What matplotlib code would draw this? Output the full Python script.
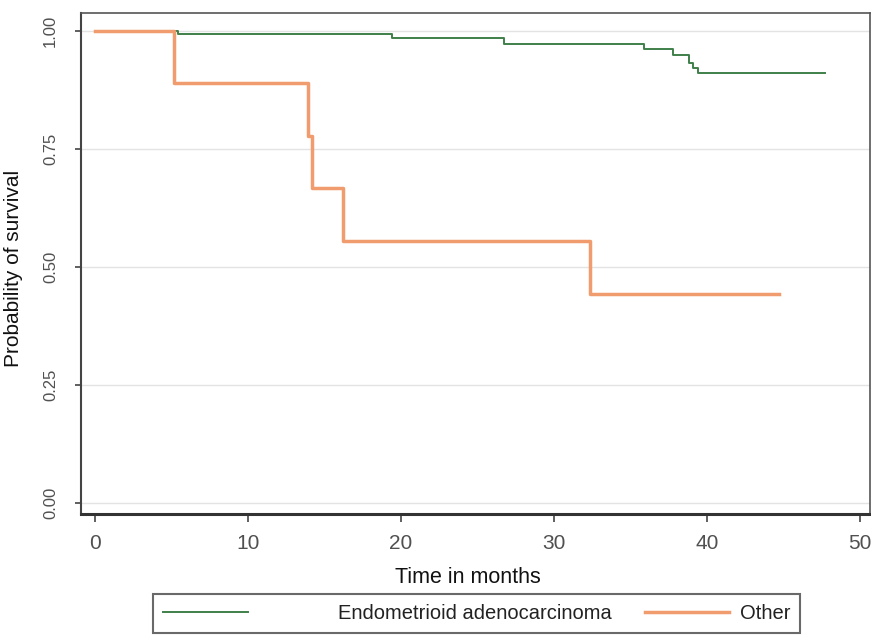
import matplotlib
matplotlib.use("Agg")
import matplotlib.pyplot as plt

# ---- data ----
endo_time = [0, 5.4, 19.4, 26.7, 35.9, 37.75, 38.8, 39.1, 39.4, 47.7]
endo_surv = [1.0, 0.994, 0.984, 0.972, 0.961, 0.950, 0.932, 0.921, 0.910, 0.910]
other_time = [0, 5.16, 13.9, 14.2, 16.2, 32.35, 44.7]
other_surv = [1.0, 0.889, 0.778, 0.667, 0.556, 0.444, 0.444]
series_labels = ["Endometrioid adenocarcinoma", "Other"]
x_ticks = [0, 10, 20, 30, 40, 50]
y_ticks = [0.00, 0.25, 0.50, 0.75, 1.00]
y_ticklabels = ["0.00", "0.25", "0.50", "0.75", "1.00"]

font = "Liberation Sans"

fig = plt.figure(figsize=(8.71, 6.37), dpi=100)
ax = fig.add_axes([0.093, 0.193, 0.9059, 0.7866])

green = "#3f7f4a"
orange = "#f09c6e"
ax.step(endo_time, endo_surv, where="post", color=green, lw=1.4, zorder=3)
ax.step(other_time, other_surv, where="post", color=orange, lw=2.5, zorder=4)

ax.set_xlim(-0.92, 50.65)
ax.set_ylim(-0.023, 1.038)
ax.set_xticks(x_ticks)
ax.set_yticks(y_ticks)
ax.set_yticklabels(y_ticklabels, rotation=90, va="center")
ax.yaxis.grid(True, color="#e3e3e3", lw=1.0)
ax.set_axisbelow(True)

for lab in ax.get_xticklabels():
    lab.set_fontfamily(font)
    lab.set_fontsize(15)
    lab.set_color("#505050")
for lab in ax.get_yticklabels():
    lab.set_fontfamily(font)
    lab.set_fontsize(12)
    lab.set_color("#505050")
ax.tick_params(axis="x", direction="out", length=6, width=1.2, color="#444444", pad=8)
ax.tick_params(axis="y", direction="out", length=4.5, width=1.2, color="#444444", pad=12)

for side in ["top", "right"]:
    ax.spines[side].set_color("#555555")
    ax.spines[side].set_linewidth(1.2)
ax.spines["left"].set_color("#444444")
ax.spines["left"].set_linewidth(1.5)
ax.spines["bottom"].set_color("#333333")
ax.spines["bottom"].set_linewidth(2.2)

ax.set_xlabel("Time in months", fontfamily=font, fontsize=15.5, color="#111111")
ax.xaxis.set_label_coords(0.49, -0.105)
ax.set_ylabel("Probability of survival", fontfamily=font, fontsize=15, color="#111111")
ax.yaxis.set_label_coords(-0.073, 0.49)

h1, = ax.plot([], [], color=green, lw=1.4)
h2, = ax.plot([], [], color=orange, lw=2.5)
leg = fig.legend([h1, h2], series_labels, loc="upper left",
                 bbox_to_anchor=(153 / 871, 1 - 594 / 637), borderaxespad=0,
                 ncol=2, frameon=True, fancybox=False, shadow=False,
                 prop={"family": font, "size": 14.5},
                 handlelength=4.2, handletextpad=0.5, columnspacing=1.65,
                 borderpad=0.5)
leg.get_frame().set_edgecolor("#444444")
leg.get_frame().set_linewidth(1.5)
for t in leg.get_texts():
    t.set_color("#222222")
try:
    first = leg._legend_handle_box.get_children()[0].get_children()[0]
    first.sep = 65
except Exception:
    pass

fig.savefig("out.png", dpi=100)
